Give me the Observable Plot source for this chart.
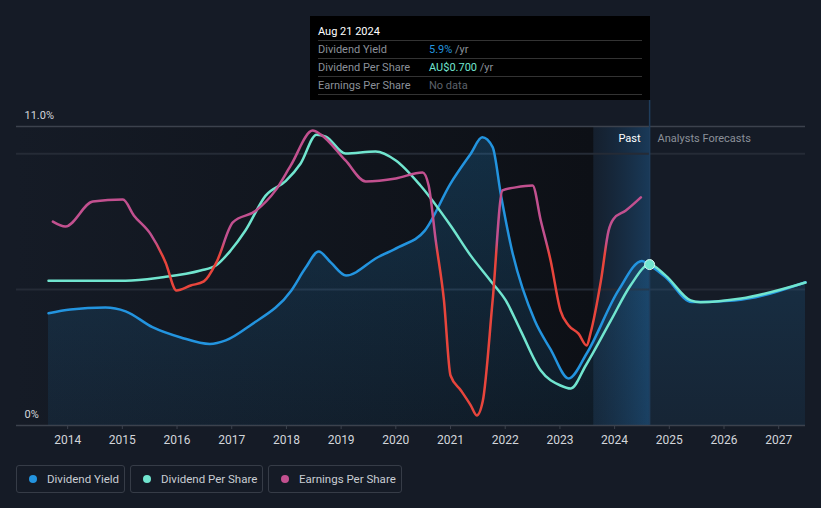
<!DOCTYPE html>
<html>
<head>
<meta charset="utf-8">
<script src="https://cdn.jsdelivr.net/npm/d3@7"></script>
<script src="https://cdn.jsdelivr.net/npm/@observablehq/plot@0.6"></script>
<style>
  html, body { margin: 0; padding: 0; background: #151b26; width: 821px; height: 508px; overflow: hidden; font-family: Roboto, "Noto Sans", sans-serif; }
  #wrap { position: relative; width: 821px; height: 508px; }
  #chart svg { display: block; }
  #tip { position: absolute; left: 310px; top: 16px; width: 340px; height: 84px; background: #000; box-sizing: border-box; padding: 8px 8px 0 8px; font-size: 11px; }
  #tip .date { color: #fff; font-size: 11px; height: 15px; line-height: 15px; border-bottom: 1px solid #333; padding-bottom: 1px; }
  #tip .row { height: 17px; line-height: 17px; border-bottom: 1px solid #333; color: #8b9099; display: flex; white-space: nowrap; }
  #tip .row .lab { width: 111px; flex: 0 0 111px; }
  #legend { position: absolute; top: 465px; left: 16px; display: flex; gap: 5px; }
  .lg { height: 28px; border: 1px solid #363c47; border-radius: 3px; box-sizing: border-box; display: flex; align-items: center; padding: 0 0 0 12px; color: #c9cdd3; font-size: 11.5px; white-space: nowrap; }
  .lg i { width: 8px; height: 8px; border-radius: 50%; display: inline-block; margin-right: 10px; }
</style>
</head>
<body>
<div id="wrap">
  <div id="chart"></div>
  <div id="tip"></div>
  <div id="legend"></div>
</div>
<script>
// ---- Data ----
// Dividend yield, % (left axis)
const yieldYears = [2013.65, 2014.05, 2014.69, 2015.06, 2015.55, 2016.07, 2016.60, 2016.89, 2017.35, 2018.09, 2018.35, 2018.59, 2018.81, 2019.09, 2019.67, 2020.05, 2020.53, 2021.00, 2021.37, 2021.58, 2021.77, 2021.92, 2022.11, 2022.54, 2022.83, 2023.16, 2023.49, 2024.07, 2024.50, 2024.64, 2024.93, 2025.41, 2026.18, 2027.49];
const yieldValues = [4.13, 4.27, 4.34, 4.20, 3.62, 3.24, 3.00, 3.13, 3.70, 4.97, 5.80, 6.40, 6.00, 5.52, 6.19, 6.56, 7.17, 8.90, 10.00, 10.60, 10.24, 8.50, 6.56, 3.86, 2.80, 1.73, 2.65, 4.97, 6.05, 5.90, 5.46, 4.54, 4.60, 5.27];

// Dividend per share, AU$ (own hidden axis)
const dpsYears = [2013.65, 2015.06, 2015.70, 2016.43, 2016.71, 2016.98, 2017.25, 2017.62, 2017.99, 2018.26, 2018.55, 2018.72, 2019.08, 2019.63, 2020.00, 2020.45, 2021.00, 2021.37, 2021.73, 2022.01, 2022.28, 2022.65, 2023.01, 2023.20, 2023.47, 2023.93, 2024.29, 2024.64, 2024.93, 2025.39, 2025.57, 2026.31, 2027.49];
const dpsValues = [0.630, 0.630, 0.644, 0.674, 0.696, 0.761, 0.848, 1.000, 1.064, 1.140, 1.265, 1.257, 1.183, 1.192, 1.153, 1.044, 0.870, 0.739, 0.630, 0.544, 0.414, 0.239, 0.174, 0.161, 0.260, 0.456, 0.609, 0.700, 0.653, 0.544, 0.536, 0.552, 0.622];

// Earnings per share, relative units on its own hidden axis
const epsYears = [2013.73, 2013.96, 2014.46, 2015.01, 2015.21, 2015.52, 2015.79, 2015.99, 2016.25, 2016.49, 2016.72, 2017.02, 2017.44, 2017.80, 2018.08, 2018.48, 2018.63, 2019.08, 2019.45, 2020.00, 2020.49, 2020.60, 2020.73, 2020.88, 2021.00, 2021.19, 2021.37, 2021.48, 2021.59, 2021.77, 2021.95, 2022.19, 2022.50, 2022.65, 2022.83, 2023.01, 2023.16, 2023.34, 2023.49, 2023.56, 2023.75, 2023.89, 2023.98, 2024.20, 2024.48];
const epsValues = [7.50, 7.32, 8.24, 8.31, 7.73, 7.03, 6.00, 4.97, 5.15, 5.30, 6.00, 7.47, 7.90, 8.65, 9.57, 10.85, 10.70, 9.75, 8.98, 9.09, 9.31, 8.83, 6.80, 4.60, 1.84, 1.29, 0.74, 0.37, 0.90, 4.60, 8.65, 8.76, 8.83, 7.54, 6.07, 4.23, 3.68, 3.38, 2.94, 3.40, 5.33, 7.17, 7.60, 7.90, 8.39];
const epsThreshold = 6.55;

const xTicks = [2014, 2015, 2016, 2017, 2018, 2019, 2020, 2021, 2022, 2023, 2024, 2025, 2026, 2027];
const yLabels = [{v: 11, label: "11.0%"}, {v: 0, label: "0%"}];
const gridLevels = [11, 10, 5, 0];

const tipDate = 2024.64;
const tipYield = 5.9;
const tipDps = 0.700;
const pastStart = 2023.62;

const colors = {yield: "#2394df", dps: "#71e5cf", eps: "#c2508f", epsNeg: "#e8453c"};

// ---- Build tables ----
const dpsScale = 5.92 / 0.700; // map AU$ onto the chart's vertical extent
const yieldData = yieldYears.map((t, i) => ({t, v: yieldValues[i]}));
const dpsData = dpsYears.map((t, i) => ({t, v: dpsValues[i] * dpsScale}));
const epsData = epsYears.map((t, i) => ({t, v: epsValues[i]}));

const xDomain = [2013.65, 2027.49];
const xLeft = 2013.065;

const chart = Plot.plot({
  width: 821,
  height: 455,
  marginLeft: 48,
  marginRight: 16,
  marginTop: 126,
  marginBottom: 30,
  style: {background: "transparent", fontFamily: "Roboto, sans-serif", fontSize: "11px", color: "#d3d6db", overflow: "visible"},
  x: {domain: xDomain},
  y: {domain: [0, 11], axis: null},
  marks: [
    Plot.rect([0], {x1: xLeft, x2: pastStart, y1: 0, y2: 11, fill: "url(#pastDark)"}),
    Plot.rect([0], {x1: pastStart, x2: tipDate, y1: 0, y2: 11, fill: "url(#pastBand)"}),
    Plot.ruleY(gridLevels, {x1: xLeft, x2: xDomain[1], stroke: d => (d === 11 || d === 0) ? "#3c424d" : "#252b36", strokeWidth: d => (d === 11 || d === 0) ? 1.3 : 2}),
    Plot.areaY(yieldData, {x: "t", y: "v", curve: "monotone-x", fill: "url(#yieldFill)"}),
    Plot.ruleX([tipDate], {y1: 0, y2: 11.96, stroke: "#1f3d5c", strokeWidth: 1.5}),
    Plot.lineY(yieldData, {x: "t", y: "v", curve: "monotone-x", stroke: colors.yield, strokeWidth: 2.5}),
    Plot.lineY(dpsData, {x: "t", y: "v", curve: "monotone-x", stroke: colors.dps, strokeWidth: 2.5}),
    Plot.lineY(epsData, {x: "t", y: "v", curve: "monotone-x", stroke: "url(#epsStroke)", strokeWidth: 2.5}),
    Plot.dot([{t: tipDate, v: tipDps * dpsScale}], {x: "t", y: "v", r: 5, fill: colors.dps, stroke: "#d9faf3", strokeWidth: 1}),
    Plot.axisX({ticks: xTicks, tickFormat: d => String(d), tickSize: 4, tickPadding: 6, stroke: "#3c424d", fill: "#d3d6db", fontSize: 12, label: null}),
    Plot.text(yLabels, {x: xLeft + 8 / 54.69, y: "v", text: "label", textAnchor: "start", dy: -11, fill: "#d3d6db", fontSize: 11}),
    Plot.text(["Past"], {x: tipDate, y: 11, dy: 12, dx: -9, text: d => d, textAnchor: "end", fill: "#ffffff", fontSize: 11}),
    Plot.text(["Analysts Forecasts"], {x: tipDate, y: 11, dy: 12, dx: 8, text: d => d, textAnchor: "start", fill: "#8b9099", fontSize: 11})
  ]
});

// gradient definitions (threshold position from the y scale)
const yPix = chart.scale("y").apply(epsThreshold);
const H = 455;
const off = yPix / H;
const defs = document.createElementNS("http://www.w3.org/2000/svg", "defs");
defs.innerHTML = `
  <linearGradient id="epsStroke" gradientUnits="userSpaceOnUse" x1="0" x2="0" y1="0" y2="${H}">
    <stop offset="${off - 0.015}" stop-color="${colors.eps}"/>
    <stop offset="${off + 0.015}" stop-color="${colors.epsNeg}"/>
  </linearGradient>
  <linearGradient id="pastDark" x1="0" x2="1" y1="0" y2="0">
    <stop offset="0" stop-color="#151b26"/>
    <stop offset="1" stop-color="#0d1016"/>
  </linearGradient>
  <linearGradient id="pastBand" x1="0" x2="1" y1="0" y2="0">
    <stop offset="0" stop-color="#16324d" stop-opacity="0.2"/>
    <stop offset="1" stop-color="#1a3d5e" stop-opacity="0.9"/>
  </linearGradient>
  <linearGradient id="yieldFill" x1="0" x2="0" y1="0" y2="1">
    <stop offset="0" stop-color="#2394df" stop-opacity="0.22"/>
    <stop offset="1" stop-color="#2394df" stop-opacity="0.08"/>
  </linearGradient>`;
chart.insertBefore(defs, chart.firstChild);
document.getElementById("chart").appendChild(chart);

// tooltip
const rows = [
  ["Dividend Yield", `<span style="color:${colors.yield}">${tipYield.toFixed(1)}%</span>&nbsp;<span style="color:#8b9099">/yr</span>`],
  ["Dividend Per Share", `<span style="color:${colors.dps}">AU$${tipDps.toFixed(3)}</span>&nbsp;<span style="color:#8b9099">/yr</span>`],
  ["Earnings Per Share", `<span style="color:#5d626b">No data</span>`]
];
document.getElementById("tip").innerHTML = `<div class="date">Aug 21 2024</div>` + rows.map(r =>
  `<div class="row"><span class="lab">${r[0]}</span><span>${r[1]}</span></div>`).join("");

// legend
const legendItems = [["Dividend Yield", colors.yield, 109], ["Dividend Per Share", colors.dps, 133], ["Earnings Per Share", colors.eps, 134]];
document.getElementById("legend").innerHTML = legendItems.map(([n, c, w]) =>
  `<div class="lg" style="width:${w}px"><i style="background:${c}"></i>${n}</div>`).join("");
</script>
</body>
</html>
